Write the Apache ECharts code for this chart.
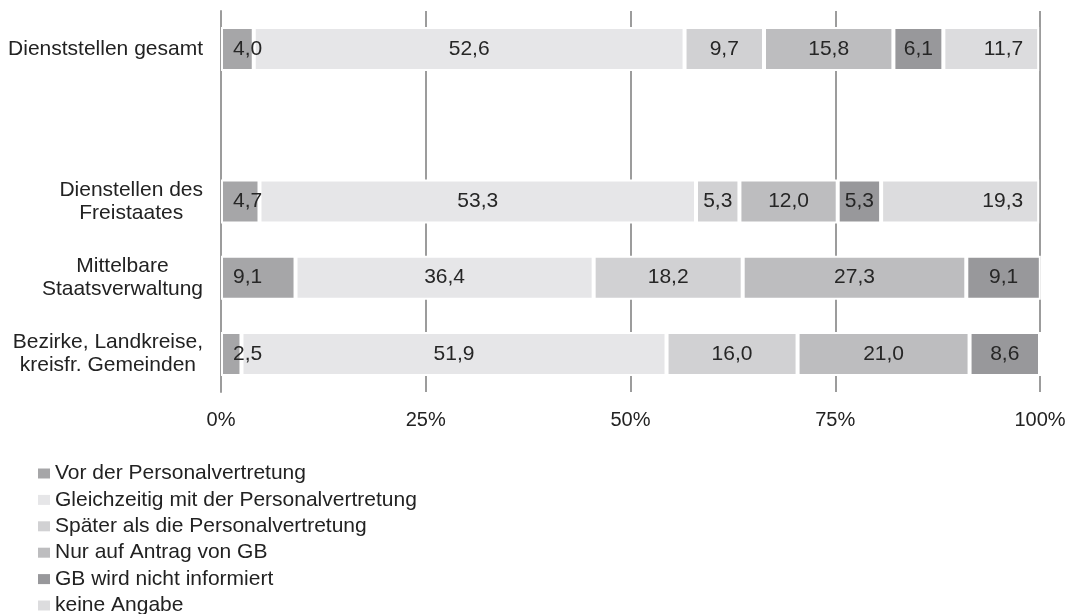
<!DOCTYPE html>
<html>
<head>
<meta charset="utf-8">
<script src="https://cdn.jsdelivr.net/npm/echarts@6/dist/echarts.min.js"></script>
<style>
  html, body { margin: 0; padding: 0; background: #ffffff; }
  #chart { width: 1069px; height: 614px; }
</style>
</head>
<body>
<div id="chart"></div>
<script>
// Rows (top to bottom); the empty entry leaves a gap below the overall row
const categories = [
  'Dienststellen gesamt',
  '',
  'Dienstellen des\nFreistaates',
  'Mittelbare\nStaatsverwaltung',
  'Bezirke, Landkreise,\nkreisfr. Gemeinden'
];

const seriesNames = [
  'Vor der Personalvertretung',
  'Gleichzeitig mit der Personalvertretung',
  'Später als die Personalvertretung',
  'Nur auf Antrag von GB',
  'GB wird nicht informiert',
  'keine Angabe'
];

// Shares in percent
const vorPR       = [4.0,  null, 4.7,  9.1,  2.5];
const gleichzeitig = [52.6, null, 53.3, 36.4, 51.9];
const spaeter     = [9.7,  null, 5.3,  18.2, 16.0];
const nurAntrag   = [15.8, null, 12.0, 27.3, 21.0];
const nichtInfo   = [6.1,  null, 5.3,  9.1,  8.6];
const keineAngabe = [11.7, null, 19.3, 0,    0];

const xTicks = [0, 25, 50, 75, 100];

const seriesData = [vorPR, gleichzeitig, spaeter, nurAntrag, nichtInfo, keineAngabe];
const colors = ['#a6a6a8', '#e6e6e8', '#d1d1d3', '#bdbdbf', '#98989b', '#dcdcde'];
const labelPos = ['insideLeft', 'inside', 'inside', 'inside', 'inside', 'insideRight'];
const labelDist = [12, 5, 5, 5, 5, 16];

const FONT = '"Liberation Sans", Arial, sans-serif';

const fmt = v => (v == null || v === 0) ? '' : v.toFixed(1).replace('.', ',');

const chart = echarts.init(document.getElementById('chart'), null, { renderer: 'canvas' });

chart.setOption({
  animation: false,
  backgroundColor: '#ffffff',
  textStyle: { fontFamily: FONT },
  grid: { left: 221, right: 29, top: 11, bottom: 222 },
  legend: {
    orient: 'vertical',
    left: 33,
    top: 458,
    height: 180,
    itemWidth: 12,
    itemHeight: 10,
    itemGap: 5.4,
    icon: 'rect',
    itemStyle: { borderWidth: 0 },
    textStyle: { fontFamily: FONT, fontSize: 21, lineHeight: 21, color: '#222' },
    data: seriesNames
  },
  xAxis: {
    type: 'value',
    min: xTicks[0],
    max: xTicks[xTicks.length - 1],
    interval: xTicks[1] - xTicks[0],
    axisLine: { show: false },
    axisTick: { show: false },
    axisLabel: {
      formatter: '{value}%',
      fontFamily: FONT,
      fontSize: 20,
      color: '#222',
      margin: 18
    },
    splitLine: { show: true, lineStyle: { color: '#9c9c9c', width: 2 } }
  },
  yAxis: {
    type: 'category',
    inverse: true,
    data: categories,
    axisLine: { show: true, lineStyle: { color: '#9c9c9c', width: 2 } },
    axisTick: { show: false },
    axisLabel: {
      margin: 18,
      align: 'right',
      formatter: v => v ? v.split('\n').map(s => '{c|' + s + '}').join('\n') : '',
      rich: {
        c: { align: 'center', fontFamily: FONT, fontSize: 21, lineHeight: 23, color: '#222' }
      }
    }
  },
  series: seriesData.map((d, i) => ({
    name: seriesNames[i],
    type: 'bar',
    stack: 'total',
    barWidth: 44,
    data: d,
    itemStyle: { color: colors[i], borderColor: '#ffffff', borderWidth: 2 },
    label: {
      show: true,
      position: labelPos[i],
      distance: labelDist[i],
      fontFamily: FONT,
      fontSize: 21,
      color: '#262626',
      formatter: p => fmt(p.value)
    }
  }))
});
</script>
</body>
</html>
